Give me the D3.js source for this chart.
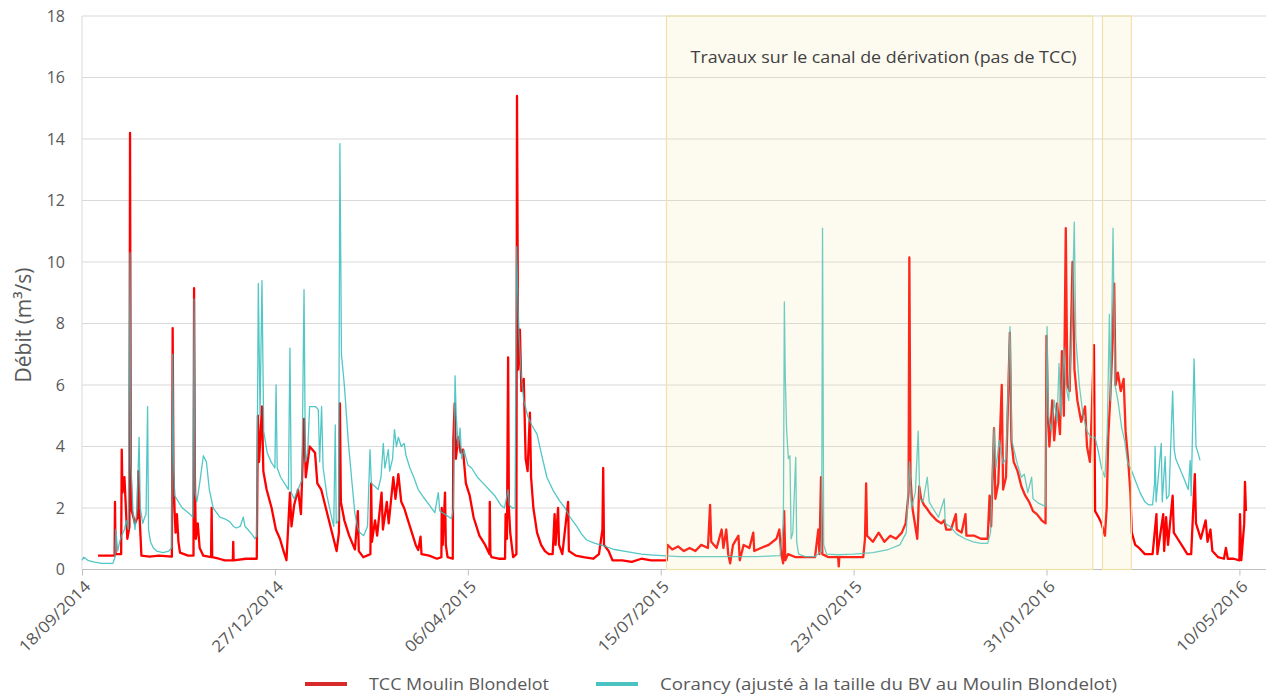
<!DOCTYPE html>
<html>
<head>
<meta charset="utf-8">
<script src="https://cdn.jsdelivr.net/npm/d3@7"></script>
<style>
    body { margin: 0; background: #fff; }
    text { font-family: "Open Sans", sans-serif; }
</style>
</head>
<body>
<div id="chart-container"></div>
<script>
// Données : [jours depuis le 18/09/2014, débit m3/s]
const startDate = "2014-09-18";
const endDate = "2016-05-24";
const tickLabels = ["18/09/2014", "27/12/2014", "06/04/2015", "15/07/2015", "23/10/2015", "31/01/2016", "10/05/2016"];
const yTicks = [0, 2, 4, 6, 8, 10, 12, 14, 16, 18];
const seriesNames = ["TCC Moulin Blondelot", "Corancy (ajusté à la taille du BV au Moulin Blondelot)"];
const workPeriods = [["2015-07-18", "2016-02-24"], ["2016-02-29", "2016-03-15"]];
const workLabel = "Travaux sur le canal de dérivation (pas de TCC)";

const tccSeries = [
    [8.3,0.45],[16.9,0.45],[17.1,2.2],[17.4,0.5],[20.3,0.5],[20.6,3.9],[21,2.5],[22,3.0],[22.6,2.2],[23.5,1.0],[24.6,1.4],[24.9,14.2],[25.3,3],[25.8,1.9],[27.5,1.5],[28.8,1.7],[29.2,3.2],[29.8,1.8],[30.8,0.45],[35,0.42],[40,0.45],[46.6,0.42],
    [47,7.85],[47.4,3.2],[48,1.9],[48.5,1.2],[49.2,1.8],[50,0.9],[50.8,0.55],[55,0.45],[57.8,0.45],[58.1,9.15],[58.5,3.1],[59,1.0],[60,1.5],[61,0.7],[62.9,0.45],[66.9,0.4],[67.2,2.0],[67.5,0.4],[71,0.35],[74,0.3],[78.2,0.3],[78.4,0.9],[78.6,0.3],[85,0.35],[90.6,0.35],
    [91.2,5.0],[91.8,3.5],[93.3,5.3],[94,3.2],[95.7,2.6],[98.3,2.0],[100.5,1.3],[102.6,1.0],[104.5,0.6],[106,0.3],[107.8,2.5],[108.6,1.4],[110,2.1],[112,2.6],[113.5,1.8],[115.1,4.9],[116,3.0],[118,4.0],[120.8,3.8],[122,2.8],[124,2.6],[126,2.1],[128,1.6],[130,1.1],[132,0.6],[133.2,1.2],
    [133.7,5.4],[134.2,2.2],[136,1.6],[138.5,1.1],[141.5,0.65],[143,1.9],[143.5,0.6],[145.8,0.4],[149.5,0.5],[149.9,2.8],[150.3,0.9],[151.9,1.6],[153,1.1],[155.3,2.5],[156,1.3],[158,2.2],[159,1.5],[161.4,3.0],[162.5,2.3],[164,3.1],[165.5,2.2],[167,2.0],[169,1.6],[171,1.2],[173,0.8],[174.3,0.63],[175.5,1.07],[176,0.5],[180,0.45],[184,0.35],
    [186.3,0.4],[186.5,2.0],[187,0.8],[188.2,2.5],[188.6,0.8],[189.5,0.4],[192.2,0.35],[192.5,4.2],[193.2,5.4],[193.8,3.6],[195,4.3],[196.3,3.8],[197.5,3.9],[199,2.8],[201,2.4],[203,1.7],[206,1.1],[209,0.8],[211.2,0.5],[211.4,2.2],[211.7,0.5],[212.3,0.4],[216,0.35],[219.3,0.35],[219.6,1.8],[220.3,1.0],[220.9,6.9],[221.3,2.0],[222,1.2],[223.5,0.4],
    [225.2,0.5],[225.5,15.4],[226.1,6.5],[227,7.8],[227.8,5.8],[229,6.2],[230,3.6],[231,3.2],[232.2,5.1],[232.8,3],[234,2],[235.9,1.2],[238,0.8],[240,0.6],[242,0.5],[244,0.5],[245,1.8],[245.5,0.8],[246.8,2.0],[247.3,0.8],[249,0.5],[252,2.2],[252.4,0.6],[256,0.45],[260,0.4],[265,0.35],[268,0.5],[269.8,1.3],[270.2,3.3],[270.6,0.8],[273,0.6],[275,0.3],[280,0.3],[285,0.25],[290,0.35],[295,0.3],[300,0.3],[303.2,0.3],
    [303.5,0.8],[306,0.65],[309,0.75],[312,0.6],[315,0.7],[318,0.6],[321,0.8],[324.5,0.7],[325.6,2.1],[326.2,0.9],[329,0.7],[331.6,1.3],[332.5,0.7],[334,1.3],[335,0.5],[336,0.2],[337.5,0.8],[340.3,1.1],[341,0.3],[343,0.8],[346,0.7],[348,1.2],[348.5,0.6],[352,0.7],[356,0.8],[360,1.0],[361.5,1.3],[362.5,0.5],[363.5,0.2],[364,1.9],[364.6,0.3],[366,0.5],
    [370,0.4],[375,0.4],[380,0.4],[381.7,1.3],[382.3,0.5],[383.1,3.0],[383.8,0.5],[387,0.4],[392,0.4],[392.3,0.1],[392.6,0.4],[398,0.4],[405,0.4],[405.9,1.0],[406.5,2.8],[407,1.1],[410,0.9],[413,1.2],[416,0.9],[419,1.1],[422,1.0],[425,1.2],[427,1.5],[428.5,2.5],[428.9,10.15],[429.5,3.0],[430.5,2.0],[432,1.4],[433,1.0],[433.5,1.7],[434,2.7],[435,2.3],[436.5,2.1],[437.8,2.0],[440,1.8],[443,1.6],[445.5,1.5],[447,1.6],[448,1.3],[450.5,1.3],[453,1.8],[453.5,1.3],[456,1.2],[458,1.8],[458.5,1.1],[462.6,1.1],[466,1.0],[469.5,1.0],
    [470.5,2.4],[471.3,1.4],[472.8,4.6],[473.5,2.3],[475,2.8],[476.8,6.0],[477.5,2.6],[479,3.0],[481,7.7],[481.8,4.2],[483,3.5],[485,3.2],[487,2.7],[489,2.4],[491,2.2],[493,1.9],[495,1.8],[497.5,1.6],[499.5,1.5],
    [500,7.6],[500.8,5.0],[501.5,4.0],[503,5.5],[504,4.2],[505.5,5.4],[507,4.4],[508,7.1],[509,5.0],[510,11.1],[510.8,6.0],[512,5.8],[513.5,10.0],[514.5,6.5],[516,5.5],[518,4.8],[520,5.3],[521,4.0],[522.5,3.5],[523.4,5.0],[524.6,7.3],[525.2,1.9],[527,1.7],[528.5,1.5],[530.3,1.1],[531.2,2.0],[532,4.3],[533,5.5],[534,7.0],[535.1,9.3],[535.8,6.0],[537,6.4],[538.5,5.8],[540,6.2],[541,4.5],[542.4,3.5],[543.5,2.5],[544.2,1.2],
    [546,0.8],[548,0.7],[551,0.5],[555,0.5],[557,1.8],[557.5,0.5],[560.5,1.8],[561,0.6],[562,1.7],[563,0.8],[565.4,2.4],[566,1.2],[568,1.0],[571,0.7],[573,0.5],[575,0.5],[576.9,3.1],[577.5,1.5],[580,1.0],[582.5,1.6],[583.5,0.9],[585,1.3],[586,0.6],[589,0.4],[592,0.35],[593,0.7],[594,0.35],[597,0.35],[600,0.3],[600.3,1.8],[601,0.3],[602.5,1.5],[602.9,2.85],[603.4,1.9]
];

const corancySeries = [
    [0,0.3],[1,0.4],[3,0.3],[6,0.25],[10,0.2],[16,0.2],[17.1,0.4],[17.5,1.3],[18.5,0.6],[19.5,0.9],[20.5,1.1],[22,1.3],[23,1.6],[24,1.3],[24.9,10.3],[25.3,3.5],[26.5,1.8],[27.5,1.3],[28.5,2.0],[29.6,4.3],[30.2,2.0],[31.5,1.5],[32.5,1.7],[33.2,1.8],[34,5.3],[34.5,1.3],[35.5,0.9],[37,0.7],[38.7,0.6],[42,0.55],[45,0.6],[46.5,0.7],
    [47,7.0],[47.5,3.5],[48,2.4],[50,2.2],[52,2.0],[54,1.9],[56,1.8],[57.5,1.7],[58.1,8.8],[58.6,2.5],[59.5,2.2],[61,2.8],[62.9,3.7],[64.5,3.5],[66,2.6],[68,2.0],[71.5,1.7],[74,1.65],[76.7,1.55],[78.5,1.4],[80,1.35],[82,1.4],[83.6,1.7],[84.5,1.4],[86,1.3],[88,1.15],[89.7,1.0],[90.6,1.1],
    [91.4,9.3],[92.3,5.0],[93.3,9.4],[94.2,4.5],[96,3.8],[98,3.5],[100,3.3],[100.6,6.0],[101.2,3.3],[103,3.0],[105,2.8],[107,2.6],[107.8,7.2],[108.5,2.5],[110,2.3],[112,2.6],[114,2.9],[115.1,9.1],[115.8,3.5],[117,3.8],[118,5.3],[121,5.3],[122.5,5.2],[123.2,3.5],[124.2,5.3],[125,3.3],[127,2.4],[129,1.8],[130.5,1.4],[131.3,4.7],[131.8,1.5],[133,1.6],
    [133.7,13.85],[134.5,7.0],[136,6.0],[138,4.2],[140,2.8],[141.5,1.8],[143,1.35],[144,1.2],[146,1.1],[148,1.4],[149.3,3.9],[150,2.8],[151.9,2.7],[153.5,2.6],[155,3.0],[156.2,4.1],[157,3.3],[158.8,3.9],[159.5,3.2],[161,3.6],[162,4.55],[163,4.0],[164,4.3],[165.5,4.0],[167,4.1],[168,3.7],[170,3.3],[172,3.0],[174.3,2.6],[177,2.35],[180,2.1],[182.9,1.85],[184.7,2.5],[185.5,1.9],[188,1.8],[191.6,1.65],
    [192.5,2.0],[193.4,6.3],[194,5.0],[195,4.0],[196,4.6],[196.8,3.6],[198,3.9],[200,3.4],[202,3.3],[205,3.0],[208,2.8],[211,2.6],[214,2.4],[217,2.1],[219,2.0],[220.9,2.6],[221.5,2.1],[223,2.0],[224.5,2.0],[225.3,10.5],[226.3,8.0],[227.5,6.5],[229,5.5],[231,5.0],[233.1,4.7],[235.9,4.4],[238,3.8],[241,3.0],[244,2.6],[247.4,2.25],[250.4,2.0],[253,1.7],[256.5,1.4],[259,1.15],[261.6,0.96],[266,0.85],[271.9,0.74],[276,0.65],[282.4,0.58],[290,0.5],[296.2,0.47],[303,0.44],
    [310,0.42],[320,0.42],[330,0.42],[340,0.42],[350,0.42],[361.9,0.45],[363.6,1.5],[364.1,8.7],[364.6,6.2],[365.3,4.5],[366.2,3.6],[367,3.7],[367.6,1.0],[368.5,1.2],[370,3.65],[370.5,0.9],[371.5,0.5],[375,0.42],[380,0.42],[383.4,0.6],[383.9,11.1],[384.5,0.8],[386,0.5],[392,0.48],[400,0.5],[410,0.55],[418,0.65],[424,0.8],[427.3,1.2],
    [429,3.5],[430,2.0],[432,2.5],[433.5,4.5],[434.3,2.3],[436,2.2],[438.2,3.0],[439.2,2.2],[441,2.0],[444,1.7],[447,2.3],[447.5,1.5],[450,1.4],[453.5,1.15],[457.8,1.0],[462,0.9],[466,0.85],[469.5,0.85],[471,1.2],[472.8,4.6],[473.8,3.3],[475.5,4.2],[477.5,3.45],[479,3.6],[481.1,7.9],[482,4.2],[485,3.4],[487,3.0],[488.5,3.1],[490.3,2.5],[492.3,3.0],[493,2.3],[496,2.15],[499.5,2.05],
    [500.3,7.9],[501,5.0],[502.5,4.5],[504,5.5],[505.5,4.8],[506.5,6.7],[507.5,5.0],[509,7.2],[510,6.0],[511.5,5.5],[513,7.5],[514.4,11.3],[515.2,7.5],[517,6.0],[519,5.0],[521,4.5],[523,4.3],[525.2,4.3],[527,3.8],[528.5,3.3],[530.3,3.0],[531.5,4.5],[532.6,8.3],[533.2,5.5],[534.5,11.1],[535.5,6.0],[537,5.5],[539,4.6],[540.5,4.2],[542,3.5],[544.2,3.2],
    [546,2.9],[548.5,2.5],[551,2.2],[553,2.1],[555,2.1],[556,2.8],[556.3,4.0],[556.8,2.2],[559.5,4.1],[560,2.2],[561.5,3.67],[562.2,2.3],[563.5,2.4],[565.4,5.8],[566.2,3.9],[567,3.6],[569,3.3],[571,3.0],[573.5,2.6],[574.5,3.55],[575,2.4],[576.5,6.85],[577.5,4.0],[578.5,3.8],[579.6,3.55]
];

function drawChart() {
    const width = 1266, height = 697;
    const margin = { top: 16, left: 82, bottom: 127.5 };
    const parseIso = d3.utcParse("%Y-%m-%d");
    const parseFr = d3.utcParse("%d/%m/%Y");
    const t0 = parseIso(startDate);
    const toDate = day => new Date(t0.getTime() + day * 864e5);

    const svg = d3.select("#chart-container")
        .append("svg")
        .attr("width", width)
        .attr("height", height);

    const x = d3.scaleUtc()
        .domain([t0, parseIso(endDate)])
        .range([margin.left, 1266.4]);

    const y = d3.scaleLinear()
        .domain([0, 18])
        .range([height - margin.bottom, margin.top]);

    // grille horizontale
    svg.append("g")
        .selectAll("line")
        .data(yTicks.filter(d => d > 0))
        .enter().append("line")
        .attr("x1", margin.left).attr("x2", width)
        .attr("y1", d => y(d)).attr("y2", d => y(d))
        .attr("stroke", "#d9d9d9").attr("stroke-width", 1);

    // axe vertical (trait)
    svg.append("line")
        .attr("x1", margin.left).attr("x2", margin.left)
        .attr("y1", y(18)).attr("y2", y(0))
        .attr("stroke", "#d9d9d9");

    // Axe des y
    const yAxis = svg.append("g")
        .attr("transform", "translate(" + margin.left + ",0)")
        .call(d3.axisLeft(y).tickValues(yTicks).tickSize(0).tickPadding(17));
    yAxis.select(".domain").remove();
    yAxis.selectAll("text")
        .style("font-size", "16px")
        .style("font-family", "'Open Sans', sans-serif")
        .attr("fill", "#595959");

    // Axe des x
    const tickDates = tickLabels.map(parseFr);
    const xAxis = svg.append("g")
        .attr("transform", "translate(0," + y(0) + ")")
        .call(d3.axisBottom(x).tickValues(tickDates).tickSize(6).tickFormat(d3.utcFormat("%d/%m/%Y")));
    xAxis.select(".domain").attr("stroke", "#bfbfbf").attr("d", "M" + margin.left + ",0H" + width);
    xAxis.selectAll(".tick line").attr("stroke", "#bfbfbf");
    xAxis.selectAll("text")
        .attr("fill", "#595959")
        .style("font-size", "16px")
        .style("font-family", "'Open Sans', sans-serif")
        .attr("text-anchor", "end")
        .attr("textLength", 93)
        .attr("lengthAdjust", "spacingAndGlyphs")
        .attr("dy", "0.35em")
        .attr("y", 0)
        .attr("transform", "translate(5,14) rotate(-45)");

    // séries
    const line = d3.line()
        .x(d => x(toDate(d[0])))
        .y(d => y(d[1]));

    svg.append("path")
        .datum(tccSeries)
        .attr("fill", "none")
        .attr("stroke", "#ff0000")
        .attr("stroke-width", 2.3)
        .attr("stroke-linejoin", "round")
        .attr("d", line);

    svg.append("path")
        .datum(corancySeries)
        .attr("fill", "none")
        .attr("stroke", "#35bcbc")
        .attr("stroke-opacity", 0.85)
        .attr("stroke-width", 1.3)
        .attr("stroke-linejoin", "round")
        .attr("d", line);

    // zone des travaux (par-dessus les courbes, semi-transparente)
    svg.append("g")
        .selectAll("rect")
        .data(workPeriods)
        .enter().append("rect")
        .attr("x", d => x(parseIso(d[0])))
        .attr("width", d => x(parseIso(d[1])) - x(parseIso(d[0])))
        .attr("y", y(18))
        .attr("height", y(0) - y(18))
        .attr("fill", "#f2e6a6")
        .attr("fill-opacity", 0.17)
        .attr("stroke", "#f0e2a6")
        .attr("stroke-width", 1.2);

    const p0 = x(parseIso(workPeriods[0][0])), p1 = x(parseIso(workPeriods[0][1]));
    svg.append("text")
        .attr("x", (p0 + p1) / 2 + 4)
        .attr("y", 63)
        .attr("text-anchor", "middle")
        .attr("fill", "#404040")
        .style("font-size", "16px")
        .attr("textLength", 386)
        .attr("lengthAdjust", "spacingAndGlyphs")
        .text(workLabel);

    // Titre de l'axe y
    svg.append("text")
        .attr("transform", "translate(31,325) rotate(-90)")
        .attr("text-anchor", "middle")
        .attr("fill", "#595959")
        .style("font-size", "21px")
        .text("Débit (m³/s)");

    // Légende
    const legendColors = ["#d92a2a", "#4bc3c3"];
    const legendX = [305, 596];
    const legendW = [180, 457];
    const legend = svg.append("g");
    seriesNames.forEach((name, i) => {
        legend.append("line")
            .attr("x1", legendX[i]).attr("x2", legendX[i] + 42)
            .attr("y1", 684).attr("y2", 684)
            .attr("stroke", legendColors[i])
            .attr("stroke-width", 4);
        legend.append("text")
            .attr("x", legendX[i] + 64)
            .attr("y", 690)
            .attr("fill", "#595959")
            .style("font-size", "16px")
            .attr("textLength", legendW[i])
            .attr("lengthAdjust", "spacingAndGlyphs")
            .text(name);
    });
}

document.addEventListener("DOMContentLoaded", drawChart);
</script>
</body>
</html>
